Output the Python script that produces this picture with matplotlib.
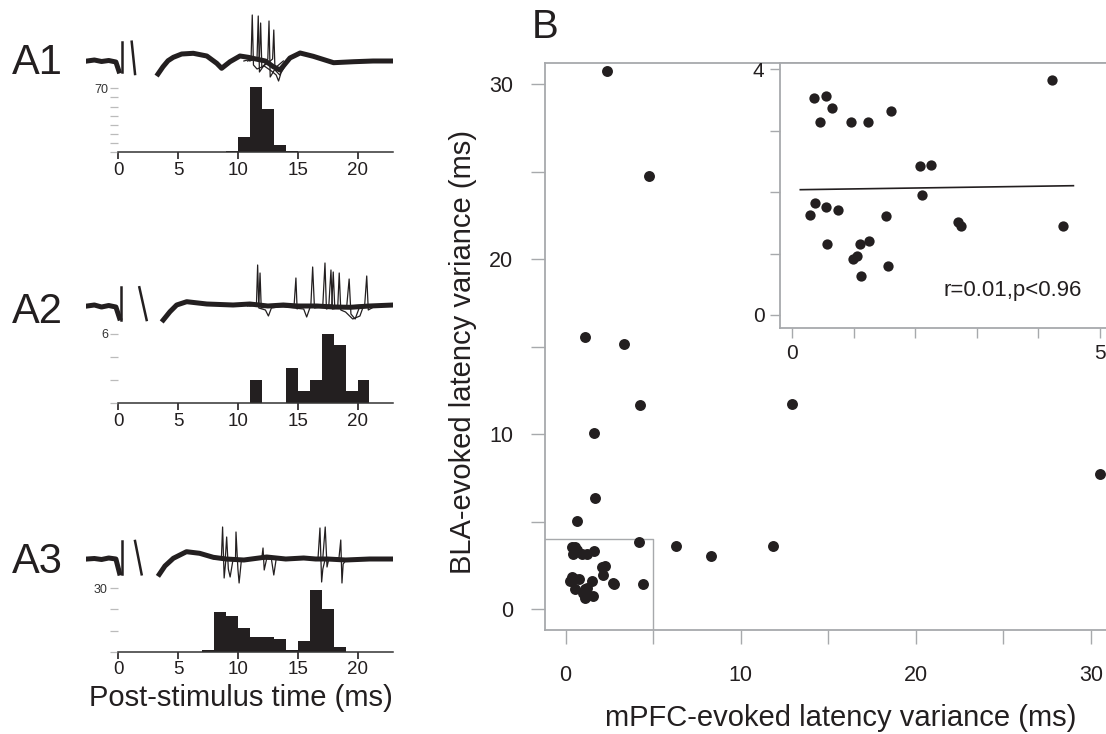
import matplotlib.pyplot as plt
from matplotlib.ticker import FixedLocator

plt.rcParams['font.family'] = ['Liberation Sans', 'DejaVu Sans']

W, H = 1106, 734
INK = '#231f20'
GRAY = '#a7a9ac'

# ---- panel B data (variance, ms) ----
main_x = [2.39, 4.78, 1.11, 3.33, 4.26, 12.95, 1.64, 30.52, 1.68, 0.66, 6.33, 8.29, 11.86]
main_y = [30.76, 24.76, 15.54, 15.14, 11.67, 11.75, 10.07, 7.71, 6.34, 5.06, 3.62, 3.03, 3.63]
inset_x = [4.22, 0.35, 0.54, 0.65, 0.45, 0.96, 1.23, 1.61, 2.08, 2.25, 2.11, 0.37, 0.54,
           0.75, 0.28, 1.52, 2.69, 2.75, 4.40, 0.56, 1.10, 1.24, 0.99, 1.05, 1.56, 1.12]
inset_y = [3.83, 3.54, 3.57, 3.37, 3.14, 3.14, 3.14, 3.32, 2.42, 2.45, 1.96, 1.82, 1.76,
           1.71, 1.62, 1.61, 1.51, 1.45, 1.45, 1.15, 1.15, 1.21, 0.91, 0.96, 0.79, 0.63]
fit_x = [0.13, 4.575]
fit_y = [2.04, 2.105]
stat_text = 'r=0.01,p<0.96'

# ---- panel A histograms (bin left edge, count) ----
a1_bins = [9, 10, 11, 12, 13, 14]
a1_counts = [1, 17, 71, 47, 8, 1]
a2_bins = [11, 14, 15, 16, 17, 18, 19, 20]
a2_counts = [2, 3, 1, 2, 6, 5, 1, 2]
a3_bins = [7, 8, 9, 10, 11, 12, 13, 14, 15, 16, 17, 18]
a3_counts = [1, 19, 17, 11, 7, 7, 6, 1, 5, 29, 20, 2]

# ---- panel A traces (ms, a.u.) ----
a1_pre_t = [-2.6, -2.0, -1.4, -0.8, -0.2, 0.05]
a1_pre_v = [0, 1, -0.5, 0.5, -1, -10]
a1_art = [([0.28, 0.28], [19, -11]), ([1.12, 1.40], [19.3, -13])]
a1_post_t = [3.32, 3.74, 4.16, 4.6, 5.3, 6.27, 7.4, 8.23, 8.64, 9.34, 10.17, 10.87, 11.5,
             12.3, 12.96, 13.52, 14.35, 15.2, 16.3, 18.0, 19.7, 21.3, 23.0]
a1_post_v = [-13, -5.7, 0.3, 3.7, 7, 7.7, 5, -2.3, -7.3, -0.7, 5, 3.7, 2,
             0, -5.7, -9, 3, 8, 4.7, -1.7, -0.7, 0, 0]
a1_sweeps = [
    ([10.5, 11.1, 11.2, 11.3, 11.6, 12.2, 12.8, 13.2, 13.4, 13.6, 14.2],
     [0, 2, 46, -4, -8, -5, -10, -14, -20, -12, 0]),
    ([10.8, 11.6, 11.7, 11.8, 12.2, 12.5, 12.6, 12.7, 13.2, 13.8],
     [0, 3, 45, -11, -4, 2, 40, -16, -6, 0]),
    ([11.0, 11.8, 11.9, 12.0, 12.5, 12.9, 13.0, 13.1, 13.5, 14.0],
     [0, 4, 38, -6, -2, 2, 31, -9, -14, 0]),
]

a2_pre_t = [-2.6, -2.0, -1.4, -0.8, -0.2, 0.1]
a2_pre_v = [0, 1, -1, 0.5, -1, -12]
a2_art = [([0.21, 0.21], [18.7, -14]), ([1.76, 2.37], [18.7, -14])]
a2_post_t = [3.76, 4.32, 4.88, 5.72, 7.4, 9.6, 11.0, 12.5, 13.8, 15.0, 16.6, 18.0, 19.4, 21.0, 23.0]
a2_post_v = [-14, -5.7, 1, 4.3, 2, 1, 2, 0, 1, 0, 0, -1, -1.3, 0, 1]
a2_sweeps = [
    ([10.8, 11.55, 11.65, 11.75, 12.3, 12.55, 12.8, 14.7, 14.85, 14.95, 15.2,
      17.1, 17.28, 17.4, 17.8, 20.6, 20.77, 20.9, 21.5],
     [0, 1, 41, -2, -4, -10, -2, 1, 28, -3, 0, 1, 43, -3, -1, 1, 30, -4, 0]),
    ([11.0, 11.75, 11.85, 11.95, 13.0, 15.5, 15.75, 16.1, 16.25, 16.4, 17.6, 17.78,
      17.9, 19.1, 19.3, 19.45, 19.8, 20.2],
     [0, 1, 33, -2, 0, -3, -11, 1, 39, -2, 0, 36, -3, 0, 27, -8, -13, 0]),
    ([17.0, 17.85, 17.97, 18.1, 18.35, 18.47, 18.6, 19.0, 19.6, 20.2, 20.5],
     [0, 1, 34, -2, 0, 33, -4, -6, -13, -10, 0]),
]

a3_pre_t = [-2.6, -2.0, -1.4, -0.8, -0.2, 0.1]
a3_pre_v = [0, 0.5, -0.5, 1, 0, -14]
a3_art = [([0.34, 0.34], [18, -15.3]), ([1.4, 1.95], [18, -15.3])]
a3_post_t = [3.43, 3.9, 4.6, 5.7, 6.8, 7.94, 9.0, 10.5, 12.4, 14.0, 15.5, 16.5, 17.5, 19.0, 21.0, 23.0]
a3_post_v = [-15.3, -7, 0.7, 7.3, 5.7, 1.7, 0, -1, 2, 0, 1, 0, 0, -1, 0, 0]
a3_sweeps = [
    ([8.0, 8.62, 8.72, 8.85, 9.0, 9.8, 9.84, 10.0, 10.1, 10.3, 12.0, 12.1, 12.2, 12.4,
      16.7, 16.86, 17.0, 17.1, 17.3],
     [0, 1, 32, -19, 0, 1, 27, -10, -24, 0, 1, 11, -11, 0, 1, 31, -23, -10, 0]),
    ([8.5, 8.95, 9.06, 9.2, 9.35, 9.6, 12.8, 13.0, 13.2, 17.1, 17.3, 17.45, 17.6,
      18.45, 18.6, 18.7, 18.8, 19.1],
     [0, 1, 22, -10, -18, 0, 0, -16, 0, 1, 32, -8, 0, 1, 19, -24, -5, 0]),
]

fig = plt.figure(figsize=(W / 100, H / 100), dpi=100)


def px_axes(left, top, right, bottom):
    """axes placed by pixel box"""
    return fig.add_axes([left / W, 1 - bottom / H, (right - left) / W, (bottom - top) / H])


def draw_a(label, label_y, base_py, tr_ylim, hist_top, hist_ylim, ytop, ystep,
           pre_t, pre_v, art, post_t, post_v, sweeps, bins, counts):
    # histogram
    hx = px_axes(86.0, hist_top, 393.4, hist_ylim[0])
    hx.patch.set_alpha(0)
    hx.bar(bins, counts, width=1, align='edge', color=INK, linewidth=0)
    hx.set_xlim(-2.7, 23)
    hx.set_ylim(0, hist_ylim[1])
    for s in ['top', 'right']:
        hx.spines[s].set_visible(False)
    hx.spines['left'].set_position(('data', 0))
    hx.spines['left'].set_visible(False)
    hx.spines['bottom'].set_bounds(0, 23)
    hx.spines['bottom'].set_color('#333333')
    hx.spines['bottom'].set_linewidth(1.1)
    hx.set_xticks([0, 5, 10, 15, 20])
    hx.tick_params(axis='x', length=5, width=1.2, color=INK, pad=2,
                   labelsize=13.5, labelcolor=INK)
    yt = list(range(0, ytop + 1, ystep))
    hx.set_yticks(yt)
    hx.set_yticklabels([''] * (len(yt) - 1) + [str(ytop)])
    hx.tick_params(axis='y', length=6, width=0.9, color='#bbbbbb', pad=1.5,
                   labelsize=9, labelcolor='#333333')

    # overlaid sweeps
    tx = px_axes(86.0, base_py - tr_ylim[1], 393.4, base_py - tr_ylim[0])
    tx.patch.set_alpha(0)
    tx.set_xlim(-2.7, 23)
    tx.set_ylim(*tr_ylim)
    tx.axis('off')
    tx.plot(pre_t, pre_v, color=INK, lw=3.6, solid_joinstyle='round')
    tx.plot(post_t, post_v, color=INK, lw=3.6, solid_joinstyle='round')
    for t, v in art:
        tx.plot(t, v, color=INK, lw=1.8)
    for t, v in sweeps:
        tx.plot(t, v, color=INK, lw=0.9)

    fig.text(37 / W, 1 - label_y / H, label, fontsize=30, color=INK, ha='center', va='center')


draw_a('A1', 63, 61, (-25, 50), 86.5, (152.3, 72), 70, 10,
       a1_pre_t, a1_pre_v, a1_art, a1_post_t, a1_post_v, a1_sweeps, a1_bins, a1_counts)
draw_a('A2', 312, 306, (-25, 50), 331.7, (403, 6.2), 6, 2,
       a2_pre_t, a2_pre_v, a2_art, a2_post_t, a2_post_v, a2_sweeps, a2_bins, a2_counts)
draw_a('A3', 562, 559, (-25, 45), 586.2, (651.7, 31), 30, 10,
       a3_pre_t, a3_pre_v, a3_art, a3_post_t, a3_post_v, a3_sweeps, a3_bins, a3_counts)

fig.text(241 / W, 1 - 698 / H, 'Post-stimulus time (ms)', fontsize=21, color=INK,
         ha='center', va='center')

# ---- panel B ----
xlo, xhi = -1.176, 32.63
ylo, yhi = -1.18, 31.18
ax = px_axes(545, 63.3, 1137, 630)
ax.scatter(main_x + inset_x, main_y + inset_y, s=62, color=INK, linewidths=0, zorder=3)
ax.plot([xlo, 5, 5], [4, 4, ylo], color=GRAY, lw=1)
ax.set_xlim(xlo, xhi)
ax.set_ylim(ylo, yhi)
for s in ax.spines.values():
    s.set_color(GRAY)
    s.set_linewidth(1.3)
ax.set_xticks([0, 10, 20, 30])
ax.set_yticks([0, 10, 20, 30])
ax.xaxis.set_minor_locator(FixedLocator([5, 15, 25]))
ax.yaxis.set_minor_locator(FixedLocator([5, 15, 25]))
ax.tick_params(which='both', direction='out', length=10, width=1, color=GRAY,
               labelsize=15.5, labelcolor=INK)
ax.tick_params(axis='x', which='both', pad=15)
ax.tick_params(axis='y', which='both', pad=13)

ins = px_axes(779.8, 63.3, 1137, 328.3)
ins.set_facecolor('white')
ins.scatter(inset_x, inset_y, s=55, color=INK, linewidths=0, zorder=3)
ins.plot(fit_x, fit_y, color=INK, lw=1.2)
ins.set_xlim(-0.204, 5.61)
ins.set_ylim(-0.217, 4.098)
for s in ins.spines.values():
    s.set_color(GRAY)
    s.set_linewidth(1.3)
ins.set_xticks(range(6))
ins.set_xticklabels(['0', '', '', '', '', '5'])
ins.set_yticks(range(5))
ins.set_yticklabels(['0', '', '', '', '4'])
ins.tick_params(direction='out', length=7, width=1, color=GRAY, labelsize=15,
                labelcolor=INK, pad=4)
ins.text(4.71, 0.395, stat_text, ha='right', va='center', fontsize=16, color=INK)

fig.text(841 / W, 1 - 718 / H, 'mPFC-evoked latency variance (ms)', fontsize=21,
         color=INK, ha='center', va='center')
fig.text(463 / W, 1 - 352 / H, 'BLA-evoked latency variance (ms)', fontsize=21,
         color=INK, ha='center', va='center', rotation=90)
fig.text(545 / W, 1 - 27.5 / H, 'B', fontsize=29, color=INK, ha='center', va='center')

fig.savefig('out.png', dpi=100)
